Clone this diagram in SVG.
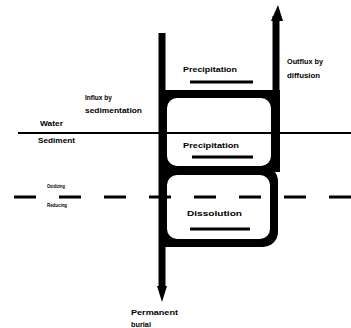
<svg xmlns="http://www.w3.org/2000/svg" width="351" height="328" viewBox="0 0 351 328">
<style>
.t{font-family:"Liberation Sans",Arial,sans-serif;font-size:8px;font-weight:bold;fill:#000;}
.s{font-family:"Liberation Sans",Arial,sans-serif;font-size:5.5px;font-weight:bold;fill:#000;}
.box{fill:#000;fill-rule:evenodd;stroke:none;}
.bar{stroke:#000;stroke-width:3;}
.shaft{stroke:#000;stroke-width:7;fill:none;}
</style>
<rect width="351" height="328" fill="#fff"/>
<g id="boundaries">
<line x1="18" y1="133" x2="351" y2="133" stroke="#000" stroke-width="2.2"/>
<line x1="14" y1="197" x2="351" y2="197" stroke="#000" stroke-width="3" stroke-dasharray="22 23"/>
<text class="t" x="40" y="126" textLength="23" lengthAdjust="spacingAndGlyphs">Water</text>
<text class="t" x="38" y="143" textLength="37" lengthAdjust="spacingAndGlyphs">Sediment</text>
<text class="s" x="47" y="188" textLength="18" lengthAdjust="spacingAndGlyphs">Oxidizing</text>
<text class="s" x="47" y="207" textLength="20" lengthAdjust="spacingAndGlyphs">Reducing</text>
</g>
<g id="connectors">
<line class="shaft" x1="162" y1="33" x2="162" y2="290"/>
<polygon points="157,286 167,286 162,302" fill="#000"/>
<line class="shaft" x1="276" y1="16" x2="276" y2="100"/>
<polygon points="271,21 283,21 278,5" fill="#000"/>
</g>
<g id="upper-box">
<path class="box" d="M159,90 H280 V172 H159 Z M177,98 H261 A10,10 0 0 1 271,108 V156 A10,10 0 0 1 261,166 H177 A10,10 0 0 1 167,156 V108 A10,10 0 0 1 177,98 Z"/>
<text class="t" x="183" y="72" textLength="54" lengthAdjust="spacingAndGlyphs">Precipitation</text>
<line class="bar" x1="190" y1="82" x2="253" y2="82"/>
<text class="t" x="183" y="148" textLength="56" lengthAdjust="spacingAndGlyphs">Precipitation</text>
<line class="bar" x1="192" y1="157" x2="253" y2="157"/>
</g>
<g id="lower-box">
<path class="box" d="M159,166 H263 A15,15 0 0 1 278,181 V232 A15,15 0 0 1 263,247 H159 Z M177,175 H260 A10,10 0 0 1 270,185 V229 A10,10 0 0 1 260,239 H177 A10,10 0 0 1 167,229 V185 A10,10 0 0 1 177,175 Z"/>
<text class="t" x="187" y="216" textLength="55" lengthAdjust="spacingAndGlyphs">Dissolution</text>
<line class="bar" x1="190" y1="229" x2="250" y2="229"/>
</g>
<g id="influx">
<text class="t" x="85" y="100" textLength="27" lengthAdjust="spacingAndGlyphs">Influx by</text>
<text class="t" x="85" y="113" textLength="57" lengthAdjust="spacingAndGlyphs">sedimentation</text>
</g>
<g id="outflux">
<text class="t" x="287" y="64" textLength="36" lengthAdjust="spacingAndGlyphs">Outflux by</text>
<text class="t" x="287" y="78" textLength="33" lengthAdjust="spacingAndGlyphs">diffusion</text>
</g>
<g id="burial">
<text class="t" x="131" y="315" textLength="47" lengthAdjust="spacingAndGlyphs">Permanent</text>
<text class="t" x="131" y="327" textLength="20" lengthAdjust="spacingAndGlyphs">burial</text>
</g>
</svg>
